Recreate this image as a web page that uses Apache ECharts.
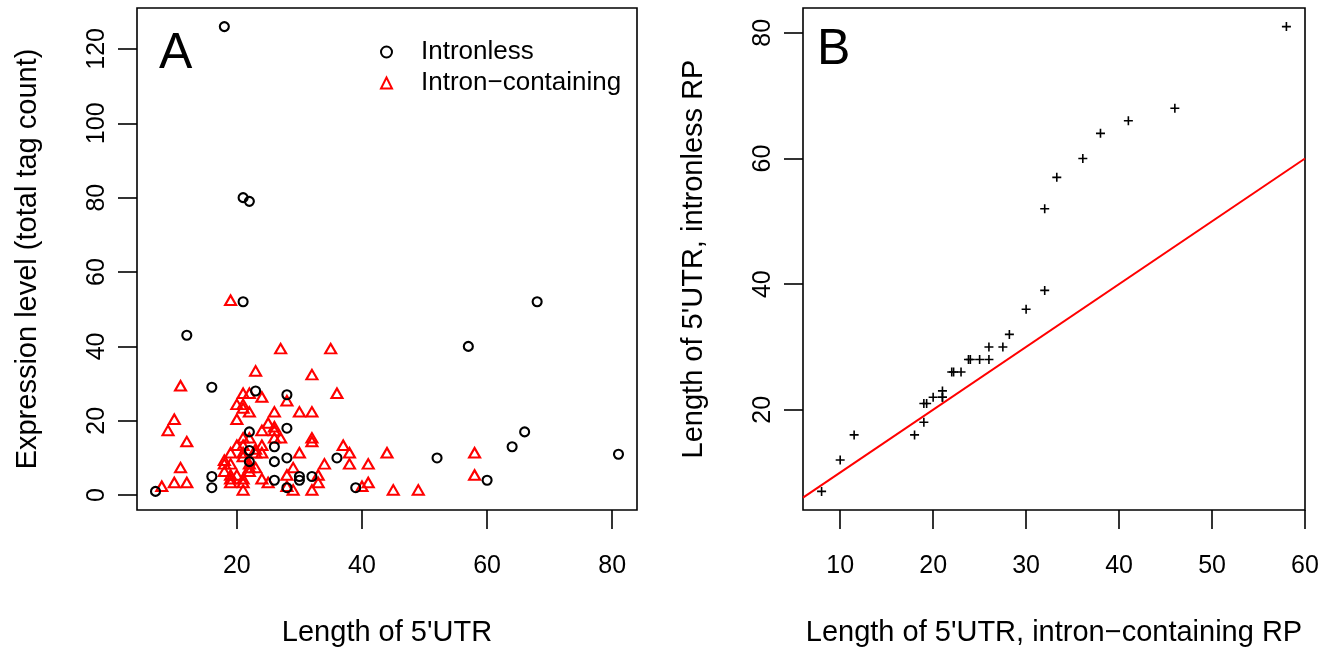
<!DOCTYPE html>
<html><head><meta charset="utf-8">
<script src="https://cdn.jsdelivr.net/npm/echarts@6/dist/echarts.min.js"></script>
<style>html,body{margin:0;padding:0;background:#fff}#c{width:1334px;height:648px}</style>
</head><body><div id="c"></div>
<script>
// Panel A: intronless genes (circles)
const intronlessX = [7,12,16,16,16,18,21,21,22,22,22,22,23,26,26,26,28,28,28,28,30,30,32,36,39,52,57,60,64,66,68,81];
const intronlessY = [1,43,29,5,2,126,80,52,79,17,12,9,28,13,9,4,27,18,10,2,5,4,5,10,2,10,40,4,13,17,52,11];
// Panel A: intron-containing genes (triangles)
const intronX = [19,27,35,23,32,11,21,22,36,24,28,20,21,21,22,26,30,32,10,20,25,9,24,26,26,26,27,21,22,12,32,32,20,21,24,37,19,21,23,24,23,30,38,44,58,18,18,19,22,11,29,34,38,41,18,19,28,33,58,24,22,19,21,19,21,8,10,12,25,33,41,40,28,21,29,32,45,49,20,22,23,21];
const intronY = [52,39,39,33,32,29,27,27,27,26,25,24,24,23,22,22,22,22,20,20,19,17,17,18,17,15,15,15,15,14,15,14,13,13,13,13,11,11,12,11,11,11,11,11,11,9,8,8,8,7,7,8,8,8,6,5,5,5,5,4,6,4,4,3,3,2,3,3,3,3,3,2,2,1,1,1,1,1,5,7,7,10];
// Panel B: Q-Q points
const qqX = [8,10,11.5,18,19,19,19.3,20,21,21,21,22,22.2,23,23.8,24,25,26,26,27.5,28.2,30,32,32,33.3,36.1,38,41,46,58];
const qqY = [7,12,16,16,18,21,21,22,22,22,23,26,26,26,28,28,28,28,30,30,32,36,39,52,57,60,64,66,68,81];
// Tick labels
const ticksAx = [20,40,60,80];
const ticksAy = [0,20,40,60,80,100,120];
const ticksBx = [10,20,30,40,50,60];
const ticksBy = [20,40,60,80];
const lineIntercept = 0, lineSlope = 1;

const F = '"Liberation Sans", Arial, sans-serif';
const chart = echarts.init(document.getElementById('c'));

function zip(a,b){ return a.map((v,i)=>[v,b[i]]); }
function padRange(arr){ const mn=Math.min(...arr), mx=Math.max(...arr), d=(mx-mn)*0.04; return [mn-d, mx+d]; }

const rAx = padRange(intronlessX.concat(intronX));
const rAy = padRange(intronlessY.concat(intronY));
const rBx = padRange(qqX);
const rBy = padRange(qqY);

function axis(gridIndex, range, ticks, name, nameGap, isY){
  return {
    gridIndex, type:'value', min:range[0], max:range[1],
    name, nameLocation:'middle', nameGap,
    nameTextStyle:{fontFamily:F, fontSize:29, color:'#000'},
    axisLine:{show:false, onZero:false},
    splitLine:{show:false},
    axisTick:{show:true, inside:false, length:19, customValues:ticks, lineStyle:{color:'#000', width:1.6}},
    axisLabel:{show:true, customValues:ticks, fontFamily:F, fontSize:25, color:'#000', margin: isY?27:44, rotate: isY?90:0},
  };
}

const lineData = [[rBx[0], lineIntercept + lineSlope*rBx[0]], [rBx[1], lineIntercept + lineSlope*rBx[1]]];

chart.setOption({
  animation:false,
  backgroundColor:'#fff',
  title:[
    {text:'A', left:154, top:24, textStyle:{fontFamily:F, fontSize:50, fontWeight:'normal', color:'#000'}},
    {text:'B', left:812, top:20, textStyle:{fontFamily:F, fontSize:50, fontWeight:'normal', color:'#000'}}
  ],
  legend:{
    left:375, top:34, orient:'vertical', itemWidth:11, itemHeight:11, itemGap:5,
    textStyle:{fontFamily:F, fontSize:26, color:'#000', lineHeight:26, padding:[0,0,0,24]},
    data:['Intronless','Intron\u2212containing']
  },
  grid:[
    {left:137, top:8, width:500, height:502, show:true, borderColor:'#000', borderWidth:1.6, backgroundColor:'transparent', outerBoundsMode:'none', containLabel:false},
    {left:803, top:8, width:502, height:502, show:true, borderColor:'#000', borderWidth:1.6, backgroundColor:'transparent', outerBoundsMode:'none', containLabel:false}
  ],
  xAxis:[
    axis(0, rAx, ticksAx, "Length of 5'UTR", 108, false),
    axis(1, rBx, ticksBx, "Length of 5'UTR, intron\u2212containing RP", 108, false)
  ],
  yAxis:[
    axis(0, rAy, ticksAy, 'Expression level (total tag count)', 95, true),
    axis(1, rBy, ticksBy, "Length of 5'UTR, intronless RP", 95, true)
  ],
  series:[
    {name:'Intronless', type:'scatter', xAxisIndex:0, yAxisIndex:0, symbol:'circle', symbolSize:9,
     itemStyle:{color:'rgba(0,0,0,0)', borderColor:'#000', borderWidth:2.1, opacity:1}, data:zip(intronlessX,intronlessY), z:3},
    {name:'Intron\u2212containing', type:'scatter', xAxisIndex:0, yAxisIndex:0, symbol:'triangle', symbolSize:[11,9.5], symbolOffset:[0,-1.5],
     itemStyle:{color:'rgba(0,0,0,0)', borderColor:'#ff0000', borderWidth:2.1, opacity:1}, data:zip(intronX,intronY), z:2},
    {name:'qq', type:'scatter', xAxisIndex:1, yAxisIndex:1, symbol:'path://M0 5L10 5M5 0L5 10', symbolSize:9,
     itemStyle:{color:'rgba(0,0,0,0)', borderColor:'#000', borderWidth:1.6, opacity:1}, data:zip(qqX,qqY), z:3},
    {name:'identity', type:'line', xAxisIndex:1, yAxisIndex:1, symbol:'none', silent:true,
     lineStyle:{color:'#ff0000', width:2}, data:lineData, z:2}
  ]
});
</script></body></html>
